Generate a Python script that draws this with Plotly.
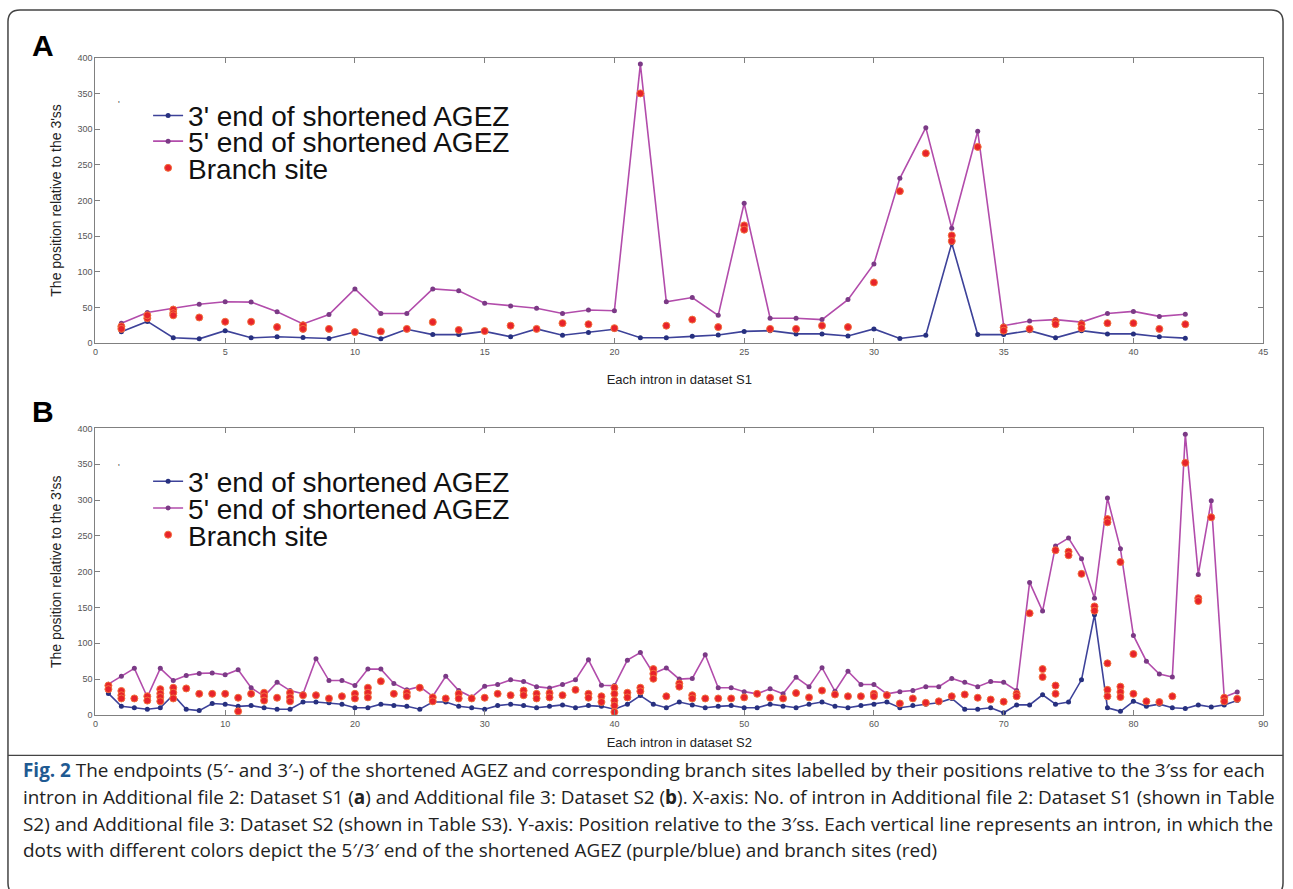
import plotly.graph_objects as go

W, H = 1293, 889

# ---------------- Dataset S1 (panel A) ----------------
introns_a = list(range(1, 43))
five_a = [28, 43, 49, 54.5, 58, 57.5, 44, 27, 40, 76, 41.5, 41.5, 76, 73.5, 56,
          52, 49, 41.5, 46.5, 45.5, 391, 58, 64, 39, 196, 35, 35, 33, 61, 111,
          231, 302, 161, 297, 24.5, 31, 33, 29.5, 41.5, 44.5, 37.5, 40.5]
three_a = [16, 30.5, 7.5, 6, 17.5, 7.5, 9, 8, 6.5, 15.5, 6, 19.5, 12, 12, 16.5,
           9, 20, 11, 15, 19.5, 7.5, 7.5, 9.5, 11.5, 16.5, 17.5, 13, 13, 10, 20,
           6.5, 11, 140, 12, 12, 17.5, 7.5, 17.5, 13, 13, 9, 7]
branch_a_intron = [1, 1, 2, 2, 3, 3, 3, 4, 5, 6, 7, 8, 8, 9, 10, 11, 12, 13, 14,
                   15, 16, 17, 18, 19, 20, 21, 22, 23, 24, 25, 25, 26, 27, 28,
                   29, 30, 31, 32, 33, 33, 34, 35, 35, 36, 37, 37, 38, 38, 39,
                   40, 41, 42]
branch_a_pos = [23.5, 20, 35, 39, 47, 42, 39, 36, 30, 30, 22.5, 25, 20, 20, 15.5,
                16.5, 20, 29.5, 18.5, 17, 24.5, 20, 28, 26.5, 21, 350, 24.5, 33,
                22.5, 165, 159, 20, 20, 24.5, 22.5, 85, 213, 266, 151, 143, 275,
                22, 17.5, 20, 30.5, 26.5, 26.5, 21, 28, 28, 20, 26.5]

# ---------------- Dataset S2 (panel B) ----------------
introns_b = list(range(1, 89))
five_b = [43, 54, 65, 25, 65, 48, 55, 58, 58.5, 56, 63, 38, 26, 45.5, 34, 29.5,
          78.5, 48, 48, 41, 64, 64, 44, 35, 39.5, 26, 54, 34, 25, 40, 42.5, 49,
          46.5, 39.5, 37.5, 42.5, 49, 77, 41.5, 41, 76.5, 87, 58, 65.5, 50, 51,
          84, 38, 38, 32.5, 29.5, 36.5, 29.5, 52.5, 39.5, 66, 33, 61, 42.5,
          42.5, 29.5, 32.5, 34, 39.5, 39.5, 51, 45.5, 39.5, 46.5, 45.5, 34, 185,
          145, 236, 247, 218, 163, 303, 232, 111, 75, 57, 53, 392, 196, 299, 25,
          32]
three_b = [30, 12, 10, 8, 10, 28, 8, 6, 16, 15, 12, 13, 10, 8, 8, 18, 18, 17,
           15, 10, 10, 15, 13, 12, 8, 18, 18, 12, 10, 8, 13, 15, 13, 10, 12, 14,
           10, 13, 12, 8, 15, 27, 15, 10, 18, 14, 10, 12, 13, 10, 10, 15, 12, 10,
           15, 18, 12, 10, 13, 15, 18, 10, 13, 15, 17, 23, 8, 8, 10, 3, 14, 14,
           28, 15, 18, 49, 140, 10, 5, 19, 12, 15, 10, 9, 14, 11, 14, 20]
branch_b_intron = [1, 1, 2, 2, 2, 3, 4, 4, 5, 5, 5, 5, 6, 6, 6, 7, 8, 9, 10, 11,
                   11, 12, 13, 13, 13, 14, 15, 15, 15, 16, 17, 18, 19, 20, 20,
                   21, 21, 21, 22, 23, 24, 24, 25, 26, 26, 27, 28, 28, 29, 30,
                   31, 32, 33, 33, 34, 34, 35, 35, 36, 37, 38, 38, 39, 39, 40,
                   40, 40, 40, 40, 41, 41, 42, 42, 43, 43, 43, 44, 45, 45, 46,
                   46, 47, 48, 49, 50, 51, 52, 53, 54, 55, 56, 57, 58, 59, 60,
                   60, 61, 62, 63, 64, 65, 66, 67, 68, 69, 70, 71, 71, 72, 73,
                   73, 74, 74, 74, 75, 75, 76, 77, 77, 78, 78, 78, 78, 78, 79,
                   79, 79, 79, 80, 80, 81, 82, 83, 84, 85, 85, 86, 87, 87, 88]
branch_b_pos = [41, 36, 33.5, 27.5, 23, 23, 26, 20, 36, 30, 25, 19, 38, 31, 23,
                37, 29.5, 29.5, 29.5, 24, 5, 29.5, 31, 26, 20, 24, 31, 24.5, 19,
                27.5, 27.5, 23, 26, 29.5, 23, 38, 31, 24.5, 47, 29.5, 31, 26, 38,
                24.5, 19, 23, 29.5, 23, 23, 24, 29.5, 27.5, 34, 27.5, 29.5, 23,
                30.5, 24.5, 27.5, 35, 29.5, 24, 26, 18, 38, 29.5, 20, 13, 4, 31,
                24.5, 38, 33, 64, 57.5, 50.5, 26, 44, 39.5, 27.5, 23, 23, 23, 23,
                24.5, 29.5, 24, 23, 30.5, 24.5, 34, 28.5, 26, 26, 29.5, 26, 27.5,
                16, 23, 17, 19, 26, 28.5, 24, 21.5, 18.5, 29.5, 26, 142, 64, 53,
                230, 41, 29.5, 228, 223, 197, 151.5, 145.5, 273.5, 269, 72, 35,
                26, 213.5, 39.5, 32, 25, 85, 29.5, 19, 18, 26, 352, 163, 159,
                276, 24, 19, 22.5]

NAME_3 = "3' end of shortened AGEZ"
NAME_5 = "5' end of shortened AGEZ"
NAME_BR = "Branch site"

BLUE_LINE, BLUE_DOT = "#3d4299", "#27307f"
PURPLE_LINE, PURPLE_DOT = "#b24cab", "#7b3a86"
RED = "#e8232b"


def panel_traces(xs, five, three, bx, by, xa, ya, legs):
    return [
        go.Scatter(x=xs, y=five, mode="lines+markers", name=NAME_5,
                   line=dict(color=PURPLE_LINE, width=1.6),
                   marker=dict(size=5, color=PURPLE_DOT),
                   xaxis=xa, yaxis=ya, legend=legs[1]),
        go.Scatter(x=xs, y=three, mode="lines+markers", name=NAME_3,
                   line=dict(color=BLUE_LINE, width=1.6),
                   marker=dict(size=5, color=BLUE_DOT),
                   xaxis=xa, yaxis=ya, legend=legs[0]),
        go.Scatter(x=bx, y=by, mode="markers", name=NAME_BR,
                   marker=dict(size=7, color=RED, symbol="circle",
                               line=dict(color="#f2703c", width=1)),
                   xaxis=xa, yaxis=ya, legend=legs[2]),
    ]


fig = go.Figure()
for tr in panel_traces(introns_a, five_a, three_a, branch_a_intron, branch_a_pos,
                       "x", "y", ["legend", "legend2", "legend3"]):
    fig.add_trace(tr)
for tr in panel_traces(introns_b, five_b, three_b, branch_b_intron, branch_b_pos,
                       "x2", "y2", ["legend4", "legend5", "legend6"]):
    fig.add_trace(tr)

FONT = "Liberation Sans, Arial, sans-serif"
axis_common = dict(showline=True, linecolor="#808080", linewidth=1,
                   mirror="ticks", ticks="inside", ticklen=5,
                   tickcolor="#808080", showgrid=False, zeroline=False,
                   tickfont=dict(size=9, color="#555555", family=FONT))

x_dom = [93 / W, 1268 / W]
ya_dom = [1 - 342 / H, 1 - 53.3 / H]
yb_dom = [1 - 718 / H, 1 - 428.3 / H]

ytitle = dict(text="The position relative to the 3'ss",
              font=dict(size=14, color="#222222", family=FONT), standoff=12)

fig.update_layout(
    xaxis=dict(domain=x_dom, range=[0, 45], tickmode="linear", tick0=0,
               dtick=5, anchor="y",
               title=dict(text="Each intron in dataset S1",
                          font=dict(size=13, color="#222222", family=FONT),
                          standoff=18),
               **axis_common),
    yaxis=dict(domain=ya_dom, range=[0, 400], tickmode="linear", tick0=0,
               dtick=50, anchor="x", title=ytitle, **axis_common),
    xaxis2=dict(domain=x_dom, range=[0, 90], tickmode="linear", tick0=0,
                dtick=10, anchor="y2",
                title=dict(text="Each intron in dataset S2",
                           font=dict(size=13, color="#222222", family=FONT),
                           standoff=10),
                **axis_common),
    yaxis2=dict(domain=yb_dom, range=[0, 400], tickmode="linear", tick0=0,
                dtick=50, anchor="x2", title=ytitle, **axis_common),
)

# one legend box per entry so rows sit as tightly as in the figure
leg_rows = {"legend": 112, "legend2": 138, "legend3": 165,
            "legend4": 482, "legend5": 509, "legend6": 536}
for key, ypx in leg_rows.items():
    fig.update_layout({key: dict(x=146 / W, y=1 - ypx / H, xanchor="left",
                                 yanchor="middle", bgcolor="rgba(0,0,0,0)",
                                 borderwidth=0, itemwidth=30,
                                 font=dict(size=28, color="#111111",
                                           family=FONT))})


def note(text, xpx, ypx, size, color="#222222", family=FONT,
         xanchor="center", yanchor="middle", **kw):
    return dict(text=text, x=xpx / W, y=1 - ypx / H, xref="paper",
                yref="paper", showarrow=False, xanchor=xanchor,
                yanchor=yanchor,
                font=dict(size=size, color=color, family=family), **kw)


annotations = [
    note("<b>A</b>", 40, 41, 30, "#000000"),
    note("<b>B</b>", 40, 411, 30, "#000000"),
    note("'", 117, 100, 9, "#444444"),
    note("'", 117, 467, 9, "#444444"),
]

CAP_FONT = "Open Sans, Noto Sans, sans-serif"
caption_lines = [
    "<b><span style='color:#1f5a92'>Fig. 2</span></b> The endpoints (5′- and 3′-) of the shortened AGEZ and corresponding branch sites labelled by their positions relative to the 3′ss for each",
    "intron in Additional file 2: Dataset S1 (<b>a</b>) and Additional file 3: Dataset S2 (<b>b</b>). X-axis: No. of intron in Additional file 2: Dataset S1 (shown in Table",
    "S2) and Additional file 3: Dataset S2 (shown in Table S3). Y-axis: Position relative to the 3′ss. Each vertical line represents an intron, in which the",
    "dots with different colors depict the 5′/3′ end of the shortened AGEZ (purple/blue) and branch sites (red)",
]
for i, line in enumerate(caption_lines):
    annotations.append(note(line, 18, 774 + 27 * i, 18.9, "#222222", CAP_FONT,
                            xanchor="left", align="left"))

# rounded frame around the figure and the rule above the caption
def frame_path(x0, y0, x1, y1, r):
    rx, ry = r / W, r / H
    X0, X1 = x0 / W, x1 / W
    Y0, Y1 = 1 - y0 / H, 1 - y1 / H
    return (f"M {X0 + rx} {Y0} L {X1 - rx} {Y0} Q {X1} {Y0} {X1} {Y0 - ry} "
            f"L {X1} {Y1 + ry} Q {X1} {Y1} {X1 - rx} {Y1} "
            f"L {X0 + rx} {Y1} Q {X0} {Y1} {X0} {Y1 + ry} "
            f"L {X0} {Y0 - ry} Q {X0} {Y0} {X0 + rx} {Y0} Z")

shapes = [
    dict(type="path", xref="paper", yref="paper",
         path=frame_path(5, 5, 1288, 900, 12),
         line=dict(color="#444444", width=1.5)),
    dict(type="line", xref="paper", yref="paper", x0=5 / W, x1=1288 / W,
         y0=1 - 759 / H, y1=1 - 759 / H,
         line=dict(color="#444444", width=1.2)),
]

fig.update_layout(
    width=W, height=H, margin=dict(l=0, r=0, t=0, b=0),
    paper_bgcolor="white", plot_bgcolor="white",
    annotations=annotations, shapes=shapes, showlegend=True,
)

fig.write_html("out.html")
